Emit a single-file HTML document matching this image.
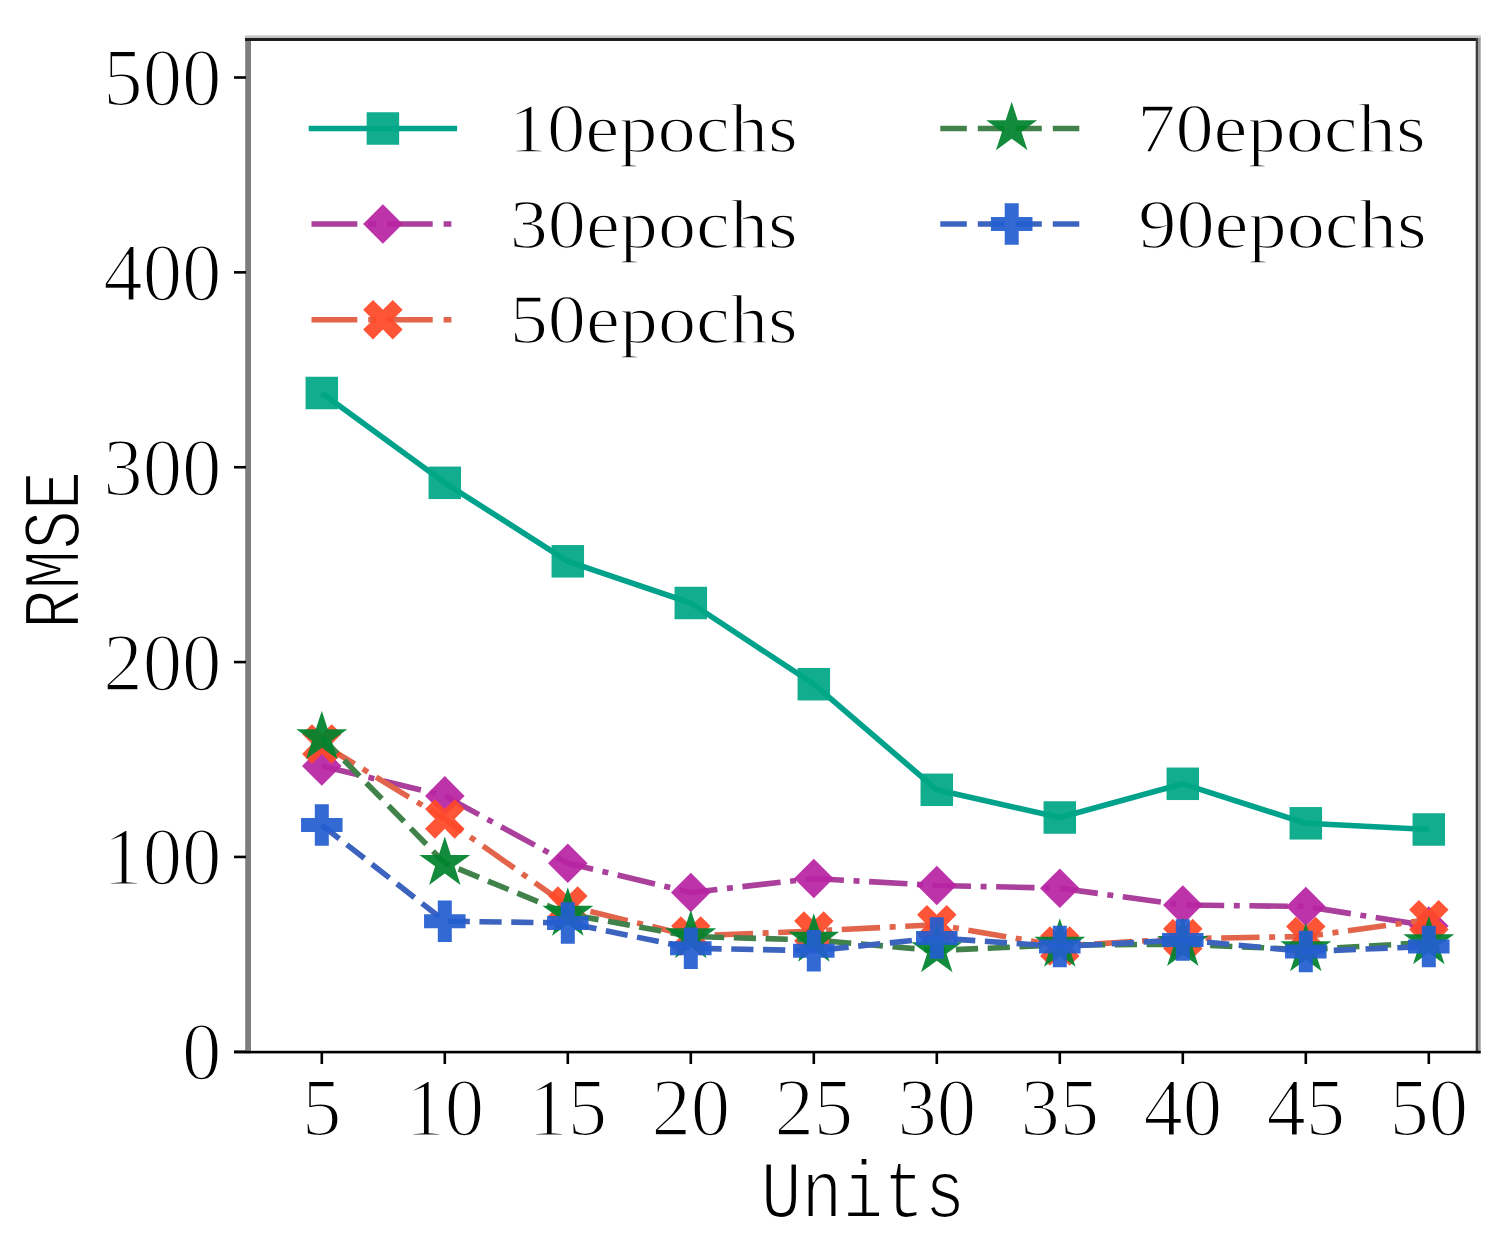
<!DOCTYPE html>
<html><head><meta charset="utf-8"><title>RMSE vs Units</title>
<style>html,body{margin:0;padding:0;background:#fff;width:1506px;height:1244px;overflow:hidden}svg{display:block}</style>
</head><body>
<svg width="1506" height="1244" viewBox="0 0 1506 1244"><rect x="245.2" y="38" width="5.8" height="1015.3" fill="#7d7d7d"/>
<rect x="245" y="35.4" width="1236" height="2.6" fill="#c4c4c4"/>
<rect x="245" y="38" width="1233" height="3" fill="#1e1e1e"/>
<rect x="1475.7" y="38" width="2.4" height="1015.3" fill="#3c3c3c"/>
<rect x="1478.1" y="38" width="2.6" height="1015.3" fill="#999"/>
<rect x="234" y="1050.8" width="1246.7" height="2.6" fill="#000"/>
<rect x="234" y="1050.5" width="12" height="2.6" fill="#000"/>
<rect x="234" y="855.64" width="12" height="2.6" fill="#000"/>
<rect x="234" y="660.78" width="12" height="2.6" fill="#000"/>
<rect x="234" y="465.92" width="12" height="2.6" fill="#000"/>
<rect x="234" y="271.06" width="12" height="2.6" fill="#000"/>
<rect x="234" y="76.2" width="12" height="2.6" fill="#000"/>
<rect x="320.5" y="1052" width="2.6" height="12" fill="#000"/>
<rect x="443.5" y="1052" width="2.6" height="12" fill="#000"/>
<rect x="566.5" y="1052" width="2.6" height="12" fill="#000"/>
<rect x="689.5" y="1052" width="2.6" height="12" fill="#000"/>
<rect x="812.5" y="1052" width="2.6" height="12" fill="#000"/>
<rect x="935.5" y="1052" width="2.6" height="12" fill="#000"/>
<rect x="1058.5" y="1052" width="2.6" height="12" fill="#000"/>
<rect x="1181.5" y="1052" width="2.6" height="12" fill="#000"/>
<rect x="1304.5" y="1052" width="2.6" height="12" fill="#000"/>
<rect x="1427.5" y="1052" width="2.6" height="12" fill="#000"/>
<text transform="translate(221.5,1079.3) scale(0.95,1)" font-family="Liberation Serif, serif" stroke="#fff" stroke-width="2" font-size="83" text-anchor="end" fill="#000">0</text>
<text transform="translate(221.5,884.44) scale(0.95,1)" font-family="Liberation Serif, serif" stroke="#fff" stroke-width="2" font-size="83" text-anchor="end" fill="#000">100</text>
<text transform="translate(221.5,689.58) scale(0.95,1)" font-family="Liberation Serif, serif" stroke="#fff" stroke-width="2" font-size="83" text-anchor="end" fill="#000">200</text>
<text transform="translate(221.5,494.72) scale(0.95,1)" font-family="Liberation Serif, serif" stroke="#fff" stroke-width="2" font-size="83" text-anchor="end" fill="#000">300</text>
<text transform="translate(221.5,299.86) scale(0.95,1)" font-family="Liberation Serif, serif" stroke="#fff" stroke-width="2" font-size="83" text-anchor="end" fill="#000">400</text>
<text transform="translate(221.5,105) scale(0.95,1)" font-family="Liberation Serif, serif" stroke="#fff" stroke-width="2" font-size="83" text-anchor="end" fill="#000">500</text>
<text transform="translate(321.8,1135) scale(0.95,1)" font-family="Liberation Serif, serif" stroke="#fff" stroke-width="2" font-size="83" text-anchor="middle" fill="#000">5</text>
<text transform="translate(444.8,1135) scale(0.95,1)" font-family="Liberation Serif, serif" stroke="#fff" stroke-width="2" font-size="83" text-anchor="middle" fill="#000">10</text>
<text transform="translate(567.8,1135) scale(0.95,1)" font-family="Liberation Serif, serif" stroke="#fff" stroke-width="2" font-size="83" text-anchor="middle" fill="#000">15</text>
<text transform="translate(690.8,1135) scale(0.95,1)" font-family="Liberation Serif, serif" stroke="#fff" stroke-width="2" font-size="83" text-anchor="middle" fill="#000">20</text>
<text transform="translate(813.8,1135) scale(0.95,1)" font-family="Liberation Serif, serif" stroke="#fff" stroke-width="2" font-size="83" text-anchor="middle" fill="#000">25</text>
<text transform="translate(936.8,1135) scale(0.95,1)" font-family="Liberation Serif, serif" stroke="#fff" stroke-width="2" font-size="83" text-anchor="middle" fill="#000">30</text>
<text transform="translate(1059.8,1135) scale(0.95,1)" font-family="Liberation Serif, serif" stroke="#fff" stroke-width="2" font-size="83" text-anchor="middle" fill="#000">35</text>
<text transform="translate(1182.8,1135) scale(0.95,1)" font-family="Liberation Serif, serif" stroke="#fff" stroke-width="2" font-size="83" text-anchor="middle" fill="#000">40</text>
<text transform="translate(1305.8,1135) scale(0.95,1)" font-family="Liberation Serif, serif" stroke="#fff" stroke-width="2" font-size="83" text-anchor="middle" fill="#000">45</text>
<text transform="translate(1428.8,1135) scale(0.95,1)" font-family="Liberation Serif, serif" stroke="#fff" stroke-width="2" font-size="83" text-anchor="middle" fill="#000">50</text>
<text transform="translate(760.7,1216.8) scale(0.842,1)" x="0" y="0" font-family="Liberation Mono, monospace" stroke="#fff" stroke-width="2.2" font-size="81" fill="#000">Units</text>
<text transform="translate(78.8,629) rotate(-90) scale(0.805,1)" x="0" y="0" font-family="Liberation Mono, monospace" stroke="#fff" stroke-width="2.2" font-size="82" fill="#000">RMSE</text>
<polyline points="321.8,393 444.8,482.8 567.8,561.3 690.8,603 813.8,684.2 936.8,789.8 1059.8,817.5 1182.8,783.8 1305.8,823.3 1428.8,829.5" fill="none" stroke="#00a28c" stroke-width="5.6" stroke-linejoin="round" stroke-linecap="projecting"/>
<rect x="305.55" y="376.75" width="32.5" height="32.5" fill="#00a787" fill-opacity="0.93"/>
<rect x="428.55" y="466.55" width="32.5" height="32.5" fill="#00a787" fill-opacity="0.93"/>
<rect x="551.55" y="545.05" width="32.5" height="32.5" fill="#00a787" fill-opacity="0.93"/>
<rect x="674.55" y="586.75" width="32.5" height="32.5" fill="#00a787" fill-opacity="0.93"/>
<rect x="797.55" y="667.95" width="32.5" height="32.5" fill="#00a787" fill-opacity="0.93"/>
<rect x="920.55" y="773.55" width="32.5" height="32.5" fill="#00a787" fill-opacity="0.93"/>
<rect x="1043.55" y="801.25" width="32.5" height="32.5" fill="#00a787" fill-opacity="0.93"/>
<rect x="1166.55" y="767.55" width="32.5" height="32.5" fill="#00a787" fill-opacity="0.93"/>
<rect x="1289.55" y="807.05" width="32.5" height="32.5" fill="#00a787" fill-opacity="0.93"/>
<rect x="1412.55" y="813.25" width="32.5" height="32.5" fill="#00a787" fill-opacity="0.93"/>
<polyline points="321.8,766 444.8,795.9 567.8,863.2 690.8,892.5 813.8,878.5 936.8,885.5 1059.8,888.2 1182.8,905 1305.8,906.5 1428.8,926" fill="none" stroke="#aa409b" stroke-width="5.6" stroke-linejoin="round" stroke-linecap="butt" stroke-dasharray="38.4 9.6 6.0 9.6"/>
<polygon points="321.8,746.2 341.6,766 321.8,785.8 302,766" fill="#b824a4" fill-opacity="0.93"/>
<polygon points="444.8,776.1 464.6,795.9 444.8,815.7 425,795.9" fill="#b824a4" fill-opacity="0.93"/>
<polygon points="567.8,843.4 587.6,863.2 567.8,883 548,863.2" fill="#b824a4" fill-opacity="0.93"/>
<polygon points="690.8,872.7 710.6,892.5 690.8,912.3 671,892.5" fill="#b824a4" fill-opacity="0.93"/>
<polygon points="813.8,858.7 833.6,878.5 813.8,898.3 794,878.5" fill="#b824a4" fill-opacity="0.93"/>
<polygon points="936.8,865.7 956.6,885.5 936.8,905.3 917,885.5" fill="#b824a4" fill-opacity="0.93"/>
<polygon points="1059.8,868.4 1079.6,888.2 1059.8,908 1040,888.2" fill="#b824a4" fill-opacity="0.93"/>
<polygon points="1182.8,885.2 1202.6,905 1182.8,924.8 1163,905" fill="#b824a4" fill-opacity="0.93"/>
<polygon points="1305.8,886.7 1325.6,906.5 1305.8,926.3 1286,906.5" fill="#b824a4" fill-opacity="0.93"/>
<polygon points="1428.8,906.2 1448.6,926 1428.8,945.8 1409,926" fill="#b824a4" fill-opacity="0.93"/>
<polyline points="321.8,744 444.8,818.9 567.8,906 690.8,936 813.8,931 936.8,924.7 1059.8,946 1182.8,938.6 1305.8,936.5 1428.8,919.7" fill="none" stroke="#e1644b" stroke-width="5.6" stroke-linejoin="round" stroke-linecap="butt" stroke-dasharray="38.4 9.6 6.0 9.6"/>
<polygon points="311.93,724.25 321.8,734.12 331.68,724.25 341.55,734.12 331.68,744 341.55,753.88 331.68,763.75 321.8,753.88 311.93,763.75 302.05,753.88 311.93,744 302.05,734.12" fill="#ff4828" fill-opacity="0.93"/>
<polygon points="434.93,799.15 444.8,809.02 454.68,799.15 464.55,809.02 454.68,818.9 464.55,828.77 454.68,838.65 444.8,828.77 434.93,838.65 425.05,828.77 434.93,818.9 425.05,809.02" fill="#ff4828" fill-opacity="0.93"/>
<polygon points="557.92,886.25 567.8,896.12 577.67,886.25 587.55,896.12 577.67,906 587.55,915.88 577.67,925.75 567.8,915.88 557.92,925.75 548.05,915.88 557.92,906 548.05,896.12" fill="#ff4828" fill-opacity="0.93"/>
<polygon points="680.92,916.25 690.8,926.12 700.67,916.25 710.55,926.12 700.67,936 710.55,945.88 700.67,955.75 690.8,945.88 680.92,955.75 671.05,945.88 680.92,936 671.05,926.12" fill="#ff4828" fill-opacity="0.93"/>
<polygon points="803.92,911.25 813.8,921.12 823.67,911.25 833.55,921.12 823.67,931 833.55,940.88 823.67,950.75 813.8,940.88 803.92,950.75 794.05,940.88 803.92,931 794.05,921.12" fill="#ff4828" fill-opacity="0.93"/>
<polygon points="926.92,904.95 936.8,914.83 946.67,904.95 956.55,914.83 946.67,924.7 956.55,934.58 946.67,944.45 936.8,934.58 926.92,944.45 917.05,934.58 926.92,924.7 917.05,914.83" fill="#ff4828" fill-opacity="0.93"/>
<polygon points="1049.92,926.25 1059.8,936.12 1069.67,926.25 1079.55,936.12 1069.67,946 1079.55,955.88 1069.67,965.75 1059.8,955.88 1049.92,965.75 1040.05,955.88 1049.92,946 1040.05,936.12" fill="#ff4828" fill-opacity="0.93"/>
<polygon points="1172.92,918.85 1182.8,928.73 1192.67,918.85 1202.55,928.73 1192.67,938.6 1202.55,948.48 1192.67,958.35 1182.8,948.48 1172.92,958.35 1163.05,948.48 1172.92,938.6 1163.05,928.73" fill="#ff4828" fill-opacity="0.93"/>
<polygon points="1295.92,916.75 1305.8,926.62 1315.67,916.75 1325.55,926.62 1315.67,936.5 1325.55,946.38 1315.67,956.25 1305.8,946.38 1295.92,956.25 1286.05,946.38 1295.92,936.5 1286.05,926.62" fill="#ff4828" fill-opacity="0.93"/>
<polygon points="1418.92,899.95 1428.8,909.83 1438.67,899.95 1448.55,909.83 1438.67,919.7 1448.55,929.58 1438.67,939.45 1428.8,929.58 1418.92,939.45 1409.05,929.58 1418.92,919.7 1409.05,909.83" fill="#ff4828" fill-opacity="0.93"/>
<polyline points="321.8,737.5 444.8,863.2 567.8,914 690.8,936.5 813.8,940 936.8,950.5 1059.8,945 1182.8,944.3 1305.8,949.6 1428.8,942.5" fill="none" stroke="#41824b" stroke-width="5.6" stroke-linejoin="round" stroke-linecap="butt" stroke-dasharray="22.2 9.6"/>
<polygon points="321.8,710.7 327.82,729.22 347.29,729.22 331.54,740.66 337.55,759.18 321.8,747.74 306.05,759.18 312.06,740.66 296.31,729.22 315.78,729.22" fill="#00832d" fill-opacity="0.93"/>
<polygon points="444.8,836.4 450.82,854.92 470.29,854.92 454.54,866.36 460.55,884.88 444.8,873.44 429.05,884.88 435.06,866.36 419.31,854.92 438.78,854.92" fill="#00832d" fill-opacity="0.93"/>
<polygon points="567.8,887.2 573.82,905.72 593.29,905.72 577.54,917.16 583.55,935.68 567.8,924.24 552.05,935.68 558.06,917.16 542.31,905.72 561.78,905.72" fill="#00832d" fill-opacity="0.93"/>
<polygon points="690.8,909.7 696.82,928.22 716.29,928.22 700.54,939.66 706.55,958.18 690.8,946.74 675.05,958.18 681.06,939.66 665.31,928.22 684.78,928.22" fill="#00832d" fill-opacity="0.93"/>
<polygon points="813.8,913.2 819.82,931.72 839.29,931.72 823.54,943.16 829.55,961.68 813.8,950.24 798.05,961.68 804.06,943.16 788.31,931.72 807.78,931.72" fill="#00832d" fill-opacity="0.93"/>
<polygon points="936.8,923.7 942.82,942.22 962.29,942.22 946.54,953.66 952.55,972.18 936.8,960.74 921.05,972.18 927.06,953.66 911.31,942.22 930.78,942.22" fill="#00832d" fill-opacity="0.93"/>
<polygon points="1059.8,918.2 1065.82,936.72 1085.29,936.72 1069.54,948.16 1075.55,966.68 1059.8,955.24 1044.05,966.68 1050.06,948.16 1034.31,936.72 1053.78,936.72" fill="#00832d" fill-opacity="0.93"/>
<polygon points="1182.8,917.5 1188.82,936.02 1208.29,936.02 1192.54,947.46 1198.55,965.98 1182.8,954.54 1167.05,965.98 1173.06,947.46 1157.31,936.02 1176.78,936.02" fill="#00832d" fill-opacity="0.93"/>
<polygon points="1305.8,922.8 1311.82,941.32 1331.29,941.32 1315.54,952.76 1321.55,971.28 1305.8,959.84 1290.05,971.28 1296.06,952.76 1280.31,941.32 1299.78,941.32" fill="#00832d" fill-opacity="0.93"/>
<polygon points="1428.8,915.7 1434.82,934.22 1454.29,934.22 1438.54,945.66 1444.55,964.18 1428.8,952.74 1413.05,964.18 1419.06,945.66 1403.31,934.22 1422.78,934.22" fill="#00832d" fill-opacity="0.93"/>
<polyline points="321.8,825 444.8,921.2 567.8,922.9 690.8,948.2 813.8,950.7 936.8,938 1059.8,946.5 1182.8,940 1305.8,951.5 1428.8,946.5" fill="none" stroke="#3c64be" stroke-width="5.6" stroke-linejoin="round" stroke-linecap="butt" stroke-dasharray="22.2 9.6"/>
<polygon points="314.8,804.25 328.8,804.25 328.8,818 342.55,818 342.55,832 328.8,832 328.8,845.75 314.8,845.75 314.8,832 301.05,832 301.05,818 314.8,818" fill="#235ecf" fill-opacity="0.93"/>
<polygon points="437.8,900.45 451.8,900.45 451.8,914.2 465.55,914.2 465.55,928.2 451.8,928.2 451.8,941.95 437.8,941.95 437.8,928.2 424.05,928.2 424.05,914.2 437.8,914.2" fill="#235ecf" fill-opacity="0.93"/>
<polygon points="560.8,902.15 574.8,902.15 574.8,915.9 588.55,915.9 588.55,929.9 574.8,929.9 574.8,943.65 560.8,943.65 560.8,929.9 547.05,929.9 547.05,915.9 560.8,915.9" fill="#235ecf" fill-opacity="0.93"/>
<polygon points="683.8,927.45 697.8,927.45 697.8,941.2 711.55,941.2 711.55,955.2 697.8,955.2 697.8,968.95 683.8,968.95 683.8,955.2 670.05,955.2 670.05,941.2 683.8,941.2" fill="#235ecf" fill-opacity="0.93"/>
<polygon points="806.8,929.95 820.8,929.95 820.8,943.7 834.55,943.7 834.55,957.7 820.8,957.7 820.8,971.45 806.8,971.45 806.8,957.7 793.05,957.7 793.05,943.7 806.8,943.7" fill="#235ecf" fill-opacity="0.93"/>
<polygon points="929.8,917.25 943.8,917.25 943.8,931 957.55,931 957.55,945 943.8,945 943.8,958.75 929.8,958.75 929.8,945 916.05,945 916.05,931 929.8,931" fill="#235ecf" fill-opacity="0.93"/>
<polygon points="1052.8,925.75 1066.8,925.75 1066.8,939.5 1080.55,939.5 1080.55,953.5 1066.8,953.5 1066.8,967.25 1052.8,967.25 1052.8,953.5 1039.05,953.5 1039.05,939.5 1052.8,939.5" fill="#235ecf" fill-opacity="0.93"/>
<polygon points="1175.8,919.25 1189.8,919.25 1189.8,933 1203.55,933 1203.55,947 1189.8,947 1189.8,960.75 1175.8,960.75 1175.8,947 1162.05,947 1162.05,933 1175.8,933" fill="#235ecf" fill-opacity="0.93"/>
<polygon points="1298.8,930.75 1312.8,930.75 1312.8,944.5 1326.55,944.5 1326.55,958.5 1312.8,958.5 1312.8,972.25 1298.8,972.25 1298.8,958.5 1285.05,958.5 1285.05,944.5 1298.8,944.5" fill="#235ecf" fill-opacity="0.93"/>
<polygon points="1421.8,925.75 1435.8,925.75 1435.8,939.5 1449.55,939.5 1449.55,953.5 1435.8,953.5 1435.8,967.25 1421.8,967.25 1421.8,953.5 1408.05,953.5 1408.05,939.5 1421.8,939.5" fill="#235ecf" fill-opacity="0.93"/>
<polyline points="311.5,128.5 454.3,128.5" fill="none" stroke="#00a28c" stroke-width="5.6" stroke-linejoin="round" stroke-linecap="square"/>
<rect x="366.65" y="112.25" width="32.5" height="32.5" fill="#00a787" fill-opacity="0.93"/>
<text x="508.7" y="151.8" font-family="Liberation Serif, serif" stroke="#fff" stroke-width="1.5" font-size="70" textLength="289.2" lengthAdjust="spacingAndGlyphs" fill="#000">10epochs</text>
<polyline points="311.5,224 454.3,224" fill="none" stroke="#aa409b" stroke-width="5.6" stroke-linejoin="round" stroke-linecap="butt" stroke-dasharray="45.8 10.9 7.8 10.9"/>
<polygon points="382.9,204.2 402.7,224 382.9,243.8 363.1,224" fill="#b824a4" fill-opacity="0.93"/>
<text x="509.7" y="247.5" font-family="Liberation Serif, serif" stroke="#fff" stroke-width="1.5" font-size="70" textLength="288" lengthAdjust="spacingAndGlyphs" fill="#000">30epochs</text>
<polyline points="311.5,319.7 454.3,319.7" fill="none" stroke="#e1644b" stroke-width="5.6" stroke-linejoin="round" stroke-linecap="butt" stroke-dasharray="45.8 10.9 7.8 10.9"/>
<polygon points="373.02,299.95 382.9,309.82 392.77,299.95 402.65,309.82 392.77,319.7 402.65,329.57 392.77,339.45 382.9,329.57 373.02,339.45 363.15,329.57 373.02,319.7 363.15,309.82" fill="#ff4828" fill-opacity="0.93"/>
<text x="509.7" y="343.2" font-family="Liberation Serif, serif" stroke="#fff" stroke-width="1.5" font-size="70" textLength="288" lengthAdjust="spacingAndGlyphs" fill="#000">50epochs</text>
<polyline points="940.3,128.5 1080,128.5" fill="none" stroke="#41824b" stroke-width="5.6" stroke-linejoin="round" stroke-linecap="butt" stroke-dasharray="26.5 11"/>
<polygon points="1011.7,101.7 1017.72,120.22 1037.19,120.22 1021.44,131.66 1027.45,150.18 1011.7,138.74 995.95,150.18 1001.96,131.66 986.21,120.22 1005.68,120.22" fill="#00832d" fill-opacity="0.93"/>
<text x="1137.2" y="151.8" font-family="Liberation Serif, serif" stroke="#fff" stroke-width="1.5" font-size="70" textLength="288.5" lengthAdjust="spacingAndGlyphs" fill="#000">70epochs</text>
<polyline points="940.3,224 1080,224" fill="none" stroke="#3c64be" stroke-width="5.6" stroke-linejoin="round" stroke-linecap="butt" stroke-dasharray="26.5 11"/>
<polygon points="1004.7,203.25 1018.7,203.25 1018.7,217 1032.45,217 1032.45,231 1018.7,231 1018.7,244.75 1004.7,244.75 1004.7,231 990.95,231 990.95,217 1004.7,217" fill="#235ecf" fill-opacity="0.93"/>
<text x="1138.2" y="247.5" font-family="Liberation Serif, serif" stroke="#fff" stroke-width="1.5" font-size="70" textLength="288.5" lengthAdjust="spacingAndGlyphs" fill="#000">90epochs</text></svg>
</body></html>
